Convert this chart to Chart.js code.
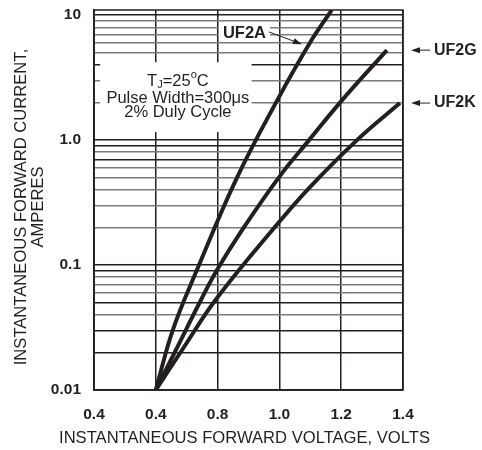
<!DOCTYPE html>
<html>
<head>
<meta charset="utf-8">
<script src="https://cdn.jsdelivr.net/npm/chart.js@4"></script>
<style>
  body { margin: 0; background: #fff; }
</style>
</head>
<body>
<canvas id="ivChart" width="482" height="450"></canvas>
<script>
// typical forward characteristics
const uf2aVolts = [0.60, 0.655, 0.733, 0.862, 0.995, 1.098, 1.169];
const uf2aAmps  = [0.01, 0.0302, 0.0912, 0.497, 2.13, 5.97, 10.96];

const uf2gVolts = [0.60, 0.665, 0.746, 0.798, 0.879, 0.999, 1.096, 1.203, 1.348];
const uf2gAmps  = [0.01, 0.0209, 0.0525, 0.0912, 0.1905, 0.506, 1.0, 2.09, 5.25];

const uf2kVolts = [0.60, 0.685, 0.798, 0.999, 1.099, 1.251, 1.390];
const uf2kAmps  = [0.01, 0.0209, 0.0545, 0.221, 0.421, 1.0, 1.98];

const seriesNames = ['UF2A', 'UF2G', 'UF2K'];

// x ticks (the second label really says 0.4 on the original sheet)
const xTickValues = [0.4, 0.6, 0.8, 1.0, 1.2, 1.4];
const xTickLabels = ['0.4', '0.4', '0.8', '1.0', '1.2', '1.4'];

const yLabelValues = [0.01, 0.1, 1, 10];
const yLabelTexts  = ['0.01', '0.1', '1.0', '10'];

const xTitle = 'INSTANTANEOUS FORWARD VOLTAGE, VOLTS';
const yTitle = ['INSTANTANEOUS FORWARD CURRENT,', 'AMPERES'];

const FONT = '"Liberation Sans", Arial, Helvetica, sans-serif';
const INK = '#231f20';

// log grid: 1..9 in each decade, 0.01 up to 10
const yGridValues = [];
for (const d of [0.01, 0.1, 1]) {
  for (let m = 1; m < 10; m++) yGridValues.push(Number((m * d).toPrecision(3)));
}
yGridValues.push(10);
const darkLines = [0.01, 0.02, 0.03, 0.05, 0.09, 0.1, 0.7, 0.9, 1, 4, 10];

const pts = (xs, ys) => xs.map((x, i) => ({ x: x, y: ys[i] }));

function arrow(ctx, x1, y1, x2, y2) {
  const a = Math.atan2(y2 - y1, x2 - x1);
  ctx.beginPath();
  ctx.moveTo(x1, y1);
  ctx.lineTo(x2 - 6 * Math.cos(a), y2 - 6 * Math.sin(a));
  ctx.lineWidth = 1;
  ctx.stroke();
  ctx.beginPath();
  ctx.moveTo(x2, y2);
  ctx.lineTo(x2 - 9 * Math.cos(a) + 3 * Math.sin(a), y2 - 9 * Math.sin(a) - 3 * Math.cos(a));
  ctx.lineTo(x2 - 9 * Math.cos(a) - 3 * Math.sin(a), y2 - 9 * Math.sin(a) + 3 * Math.cos(a));
  ctx.closePath();
  ctx.fill();
}

const notes = {
  id: 'notes',
  beforeDatasetsDraw(chart) {
    const { ctx, chartArea: ca, scales: { x, y } } = chart;
    ctx.save();
    ctx.strokeStyle = INK;
    ctx.fillStyle = INK;

    // frame
    ctx.lineWidth = 1.5;
    ctx.strokeRect(ca.left, ca.top, ca.right - ca.left, ca.bottom - ca.top);

    // test conditions box
    const l = x.getPixelForValue(0.42), r = x.getPixelForValue(0.91);
    const t = y.getPixelForValue(4.2), b = y.getPixelForValue(1.16);
    ctx.fillStyle = '#fff';
    ctx.fillRect(l, t, r - l, b - t);
    ctx.fillStyle = INK;
    const cx = (l + r) / 2 + 2;
    ctx.textBaseline = 'middle';
    ctx.textAlign = 'left';

    const big = '16.5px ' + FONT, small = '11px ' + FONT;
    ctx.font = big;
    const wT = ctx.measureText('T').width, wEq = ctx.measureText('=25').width, wC = ctx.measureText('C').width;
    ctx.font = small;
    const wJ = ctx.measureText('J').width, wO = ctx.measureText('o').width;
    let px = cx - (wT + wJ + wEq + wO + wC) / 2;
    const ty = t + 19;
    ctx.font = big; ctx.fillText('T', px, ty); px += wT;
    ctx.font = small; ctx.fillText('J', px, ty + 4); px += wJ;
    ctx.font = big; ctx.fillText('=25', px, ty); px += wEq;
    ctx.font = small; ctx.fillText('o', px, ty - 6); px += wO;
    ctx.font = big; ctx.fillText('C', px, ty);

    ctx.textAlign = 'center';
    ctx.fillText('Pulse Width=300\u03bcs', cx, t + 36);
    ctx.fillText('2% Duly Cycle', cx, t + 50);

    // series labels
    ctx.font = 'bold 16.5px ' + FONT;
    const ax = x.getPixelForValue(0.887), ay = y.getPixelForValue(7.2);
    const aw = ctx.measureText(seriesNames[0]).width;
    ctx.fillStyle = '#fff';
    ctx.fillRect(ax - aw / 2 - 4, ay - 9, aw + 8, 17);
    ctx.fillStyle = INK;
    ctx.fillText(seriesNames[0], ax, ay);
    arrow(ctx, ax + aw / 2 + 3, ay - 1, x.getPixelForValue(1.073), y.getPixelForValue(5.85));

    ctx.font = 'bold 16px ' + FONT;
    ctx.textAlign = 'left';
    [uf2gAmps, uf2kAmps].forEach((as, i) => {
      const ly = y.getPixelForValue(as[as.length - 1]);
      arrow(ctx, ca.right + 27, ly, ca.right + 8, ly);
      ctx.fillText(seriesNames[i + 1], ca.right + 31, ly);
    });

    // axis titles (drawn here so the long x title is not squeezed)
    ctx.font = '16.6px ' + FONT;
    ctx.textAlign = 'center';
    ctx.fillText(xTitle, (ca.left + ca.right) / 2 - 4, chart.height - 12);
    ctx.translate(21, (ca.top + ca.bottom) / 2 + 7);
    ctx.rotate(-Math.PI / 2);
    ctx.fillText(yTitle[0], 0, 0);
    ctx.fillText(yTitle[1], 0, 17);
    ctx.restore();
  }
};

new Chart(document.getElementById('ivChart'), {
  type: 'line',
  data: {
    datasets: [
      { label: seriesNames[0], data: pts(uf2aVolts, uf2aAmps) },
      { label: seriesNames[1], data: pts(uf2gVolts, uf2gAmps) },
      { label: seriesNames[2], data: pts(uf2kVolts, uf2kAmps) }
    ]
  },
  options: {
    responsive: false,
    animation: false,
    layout: { padding: { top: 10, right: 79, left: 0, bottom: 0 } },
    plugins: { legend: { display: false }, tooltip: { enabled: false } },
    elements: {
      point: { radius: 0 },
      line: { borderColor: INK, borderWidth: 4, tension: 0.4, fill: false, borderCapStyle: 'butt' }
    },
    scales: {
      x: {
        type: 'linear', min: 0.4, max: 1.4,
        afterBuildTicks: s => { s.ticks = xTickValues.map(v => ({ value: v })); },
        afterFit: s => { s.height = 60; s.paddingLeft = 0; s.paddingRight = 0; },
        ticks: {
          callback: (v, i) => xTickLabels[i],
          color: INK, padding: 15, maxRotation: 0, autoSkip: false,
          font: { family: FONT, size: 15.5, weight: 'bold' }
        },
        grid: { color: INK, lineWidth: 1.5, drawTicks: false },
        border: { color: INK, width: 1.5 }
      },
      y: {
        type: 'logarithmic', min: 0.01, max: 11,
        afterBuildTicks: s => { s.ticks = yGridValues.map(v => ({ value: v })); },
        afterFit: s => { s.width = 94; s.paddingTop = 0; s.paddingBottom = 0; },
        ticks: {
          callback: v => {
            const i = yLabelValues.findIndex(k => Math.abs(k - v) < 1e-9);
            return i < 0 ? '' : yLabelTexts[i];
          },
          color: INK, padding: 13, autoSkip: false,
          font: { family: FONT, size: 15.5, weight: 'bold' }
        },
        grid: {
          color: c => darkLines.includes(c.tick && c.tick.value) ? INK : '#7a7a7a',
          lineWidth: 1.5, drawTicks: false
        },
        border: { color: INK, width: 1.5 }
      }
    }
  },
  plugins: [notes]
});
</script>
</body>
</html>
